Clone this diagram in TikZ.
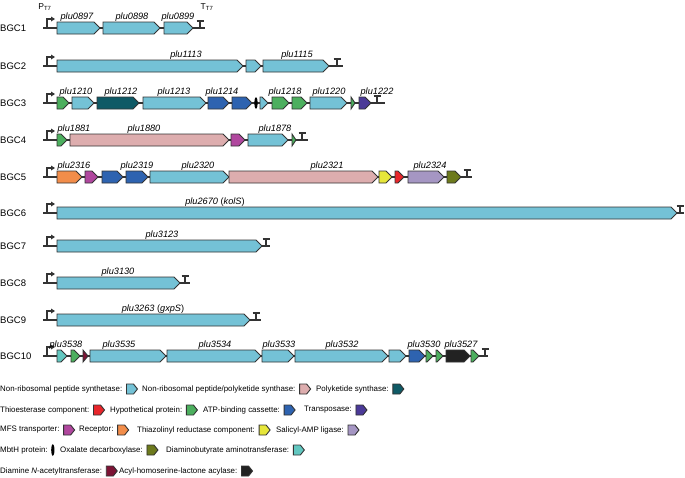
\documentclass[tikz,border=0pt]{standalone}
\usepackage{fontspec}
\setmainfont{Liberation Sans}
\usetikzlibrary{arrows.meta}
\definecolor{nrps}{HTML}{74C2D6}
\definecolor{pks}{HTML}{0F5A66}
\definecolor{hyb}{HTML}{DDADAE}
\definecolor{thio}{HTML}{E8262B}
\definecolor{hyp}{HTML}{4CAF5E}
\definecolor{abc}{HTML}{2E63B0}
\definecolor{trp}{HTML}{4B3A98}
\definecolor{mfs}{HTML}{B0479E}
\definecolor{rec}{HTML}{F28D4A}
\definecolor{thz}{HTML}{E6E63A}
\definecolor{sal}{HTML}{A596C3}
\definecolor{oxa}{HTML}{6D7A1D}
\definecolor{dab}{HTML}{62C7C0}
\definecolor{dia}{HTML}{7D1335}
\definecolor{acy}{HTML}{222222}
\definecolor{edge}{HTML}{333333}
\tikzset{
  gene/.style={draw=edge,line width=0.9pt,line join=miter},
  bb/.style={draw=edge,line width=1.2pt},
  glab/.style={font=\fontsize{9.2}{11}\selectfont\itshape,anchor=base},
  rlab/.style={font=\fontsize{9.5}{11}\selectfont,anchor=west,inner sep=0pt},
  ltext/.style={font=\fontsize{7.9}{10}\selectfont,anchor=west,inner sep=0pt},
}
\newcommand{\gn}[4]{%
  \pgfmathsetmacro\tp{min(6,(#2-#1))}%
  \filldraw[gene,fill=#4] (#1,#3-6) -- ({#2-\tp},#3-6) -- (#2,#3) -- ({#2-\tp},#3+6) -- (#1,#3+6) -- cycle;}
\newcommand{\mbth}[2]{\fill[black] (#1,#2) ellipse [x radius=1.6pt, y radius=6pt];}
\newcommand{\row}[5]{% name, label, y, term x, end x
  \node[rlab] (#1) at (0,#3) {#2};
  \draw[bb] (43,#3) -- (#5,#3);
  \draw[bb] (47,#3) -- (47,#3-9) -- (52,#3-9);
  \fill[edge] (51,#3-11.5) -- (55,#3-9) -- (51,#3-6.5) -- cycle;
  \draw[bb] (#4,#3) -- (#4,#3-7) (#4-3.5,#3-7) -- (#4+3.5,#3-7);}
\newcommand{\gl}[3]{\node[glab] at (#1,#2-9) {#3};}
\newcommand{\legbox}[3]{% name, text, color
  \node[ltext] (#1) at (\lx,\ly) {#2};
  \path (#1.east) ++(4,0) coordinate (#1b);
  \filldraw[gene,fill=#3] ([yshift=5pt]#1b) -- ++(7,0) -- ++(4,5) -- ++(-4,5) -- ++(-7,0) -- cycle;}
\begin{document}
\begin{tikzpicture}[x=1pt,y=-1pt]
\useasboundingbox (0,0) rectangle (685,477);
% BGC1
\row{r1}{BGC1}{28}{200}{205}
\gn{57}{100}{28}{nrps}\gn{103}{160}{28}{nrps}\gn{164}{193}{28}{nrps}
\gl{77}{28}{plu0897}\gl{132}{28}{plu0898}\gl{178}{28}{plu0899}
\node[font=\fontsize{8.5}{10}\selectfont,inner sep=0pt] (pt7) at (45,7) {P\textsubscript{T7}};
\node[font=\fontsize{8.5}{10}\selectfont,inner sep=0pt] (tt7) at (207,7) {T\textsubscript{T7}};
% BGC2
\row{r2}{BGC2}{66}{337}{343}
\gn{57}{243}{66}{nrps}\gn{246}{261}{66}{nrps}\gn{263}{329}{66}{nrps}
\gl{186}{66}{plu1113}\gl{297}{66}{plu1115}
% BGC3
\row{r3}{BGC3}{103}{377}{385}
\gn{57}{69}{103}{hyp}\gn{72}{94}{103}{nrps}\gn{97}{139}{103}{pks}\gn{143}{206}{103}{nrps}
\gn{208}{229}{103}{abc}\gn{232}{252}{103}{abc}\mbth{256}{103}\gn{260}{268}{103}{nrps}
\gn{272}{289}{103}{hyp}\gn{292}{307}{103}{hyp}\gn{310}{347}{103}{nrps}\gn{351}{355}{103}{hyp}
\gn{359}{371}{103}{trp}
\gl{76}{103}{plu1210}\gl{121}{103}{plu1212}\gl{174}{103}{plu1213}\gl{222}{103}{plu1214}
\gl{285}{103}{plu1218}\gl{329}{103}{plu1220}\gl{377}{103}{plu1222}
% BGC4
\row{r4}{BGC4}{140}{302}{308}
\gn{57}{67}{140}{hyp}\gn{70}{229}{140}{hyb}\gn{231}{245}{140}{mfs}\gn{248}{288}{140}{nrps}\gn{292}{296}{140}{hyp}
\gl{74}{140}{plu1881}\gl{144}{140}{plu1880}\gl{275}{140}{plu1878}
% BGC5
\row{r5}{BGC5}{177}{467}{472}
\gn{57}{82}{177}{rec}\gn{85}{98}{177}{mfs}\gn{102}{123}{177}{abc}\gn{126}{148}{177}{abc}
\gn{150}{229}{177}{nrps}\gn{229}{378}{177}{hyb}\gn{379}{392}{177}{thz}\gn{395}{404}{177}{thio}
\gn{408}{444}{177}{sal}\gn{447}{461}{177}{oxa}
\gl{74}{177}{plu2316}\gl{137}{177}{plu2319}\gl{198}{177}{plu2320}\gl{327}{177}{plu2321}\gl{430}{177}{plu2324}
% BGC6
\row{r6}{BGC6}{213}{680}{684}
\gn{57}{677}{213}{nrps}
\node[glab] at (215,204) {plu2670 \textup{(}kolS\textup{)}};
% BGC7
\row{r7}{BGC7}{246}{266}{270}
\gn{57}{262}{246}{nrps}\gl{162}{246}{plu3123}
% BGC8
\row{r8}{BGC8}{283}{185}{190}
\gn{57}{180}{283}{nrps}\gl{118}{283}{plu3130}
% BGC9
\row{r9}{BGC9}{320}{256}{261}
\gn{57}{250}{320}{nrps}
\node[glab] at (153,311) {plu3263 \textup{(}gxpS\textup{)}};
% BGC10
\row{r10}{BGC10}{356}{485}{488}
\gn{57}{67}{356}{dab}\gn{71}{80}{356}{hyp}\gn{83}{88}{356}{dia}\gn{90}{166}{356}{nrps}
\gn{167}{261}{356}{nrps}\gn{262}{294}{356}{nrps}\gn{295}{388}{356}{nrps}\gn{389}{406}{356}{nrps}
\gn{409}{425}{356}{abc}\gn{426}{433}{356}{hyp}\gn{436}{443}{356}{hyp}\gn{446}{470}{356}{acy}
\gn{471}{479}{356}{hyp}
\gl{66}{356}{plu3538}\gl{119}{356}{plu3535}\gl{215}{356}{plu3534}\gl{279}{356}{plu3533}
\gl{342}{356}{plu3532}\gl{424}{356}{plu3530}\gl{461}{356}{plu3527}
% Legend
\def\ly{389}
\def\lx{0}\legbox{l1}{Non-ribosomal peptide synthetase:}{nrps}
\def\lx{142}\legbox{l2}{Non-ribosomal peptide/polyketide synthase:}{hyb}
\def\lx{316}\legbox{l3}{Polyketide synthase:}{pks}
\def\ly{410}
\def\lx{0}\legbox{l4}{Thioesterase component:}{thio}
\def\lx{110}\legbox{l5}{Hypothetical protein:}{hyp}
\def\lx{203}\legbox{l6}{ATP-binding cassette:}{abc}
\def\lx{304}\legbox{l7}{Transposase:}{trp}
\def\ly{430}
\def\lx{0}\legbox{l8}{MFS transporter:}{mfs}
\def\lx{79}\legbox{l9}{Receptor:}{rec}
\def\lx{137}\legbox{l10}{Thiazolinyl reductase component:}{thz}
\def\lx{276}\legbox{l11}{Salicyl-AMP ligase:}{sal}
\def\ly{450}
\node[ltext] (l12) at (0,450) {MbtH protein:};
\fill[black] ([xshift=5pt]l12.east) ellipse [x radius=1.6pt, y radius=6pt];
\def\lx{60}\legbox{l13}{Oxalate decarboxylase:}{oxa}
\def\lx{166}\legbox{l14}{Diaminobutyrate aminotransferase:}{dab}
\def\ly{471}
\def\lx{0}\legbox{l15}{Diamine \textit{N}-acetyltransferase:}{dia}
\def\lx{119}\legbox{l16}{Acyl-homoserine-lactone acylase:}{acy}
\end{tikzpicture}
\end{document}
